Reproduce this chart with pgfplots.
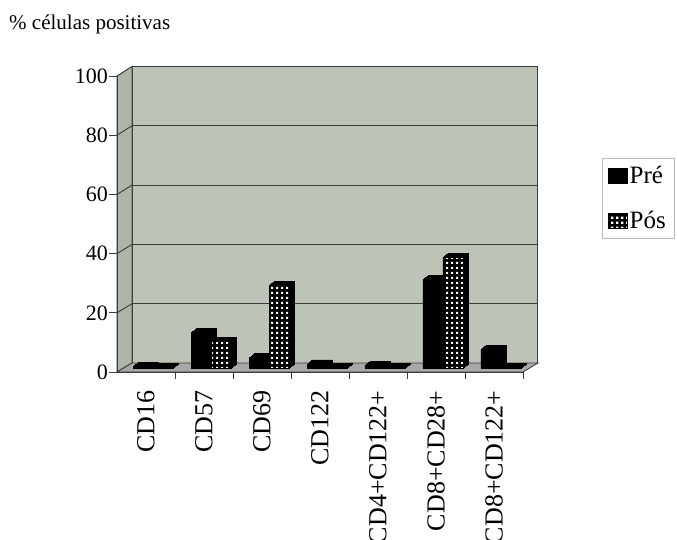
\documentclass[border=0pt]{standalone}
\usepackage{fontspec}
\setmainfont{Liberation Serif}
\usepackage{pgfplots}
\usepackage{pgfplotstable}
\pgfplotsset{compat=1.18}
\usetikzlibrary{patterns}

\definecolor{wall}{RGB}{188,196,183}
\definecolor{sidewall}{RGB}{174,182,169}
\definecolor{floorc}{RGB}{168,168,168}
\definecolor{edge}{RGB}{60,60,60}

% white squares on black: the fill of the "Pós" bars
\pgfdeclarepatternformonly{whitesq}{\pgfqpoint{0pt}{0pt}}{\pgfqpoint{5pt}{5pt}}{\pgfqpoint{5pt}{5pt}}{%
  \pgfpathrectangle{\pgfqpoint{1.2pt}{1.2pt}}{\pgfqpoint{2.6pt}{2.6pt}}\pgfusepath{fill}}

\pgfplotstableread{
idx pre pos
0 0.6 0.3
1 12 9
2 3.5 28
3 1.4 0.3
4 1.0 0.3
5 30 37.5
6 6.4 0.2
}\cells

% extruded depth of a bar: black copies stepped back and up
\pgfplotsset{
  depth/.style={ybar, bar width=20pt, fill=black, draw=black, forget plot},
}

\begin{document}
\begin{tikzpicture}
\clip (0pt,0pt) rectangle (677pt,539pt);

\node[anchor=west, inner sep=0pt, font=\fontsize{21}{24}\selectfont] at (9pt,515pt) {\% células positivas};

% back wall with gridlines
\begin{axis}[
  at={(132pt,176pt)}, anchor=south west, scale only axis,
  width=406pt, height=296.5pt,
  xmin=-0.5, xmax=6.5, ymin=0, ymax=100,
  xtick=\empty, ytick={20,40,60,80}, yticklabels={},
  major tick length=0pt,
  ymajorgrids, grid style={edge, line width=0.9pt},
  axis background/.style={fill=wall},
  axis line style={edge, line width=1pt},
]
\end{axis}

% side wall and floor
\fill[sidewall, draw=edge, line width=1pt] (117pt,167pt) -- (132pt,176pt) -- (132pt,472.5pt) -- (117pt,463pt) -- cycle;
\foreach \k in {1,2,3,4}
  \draw[edge, line width=0.9pt] (117pt,167pt+\k*59.2pt) -- (132pt,176pt+\k*59.3pt);
\fill[floorc, draw=edge, line width=0.8pt] (117pt,167pt) -- (132pt,176pt) -- (538pt,176pt) -- (523pt,167pt) -- cycle;

% bars
\begin{axis}[
  at={(124pt,171pt)}, anchor=south west, scale only axis,
  width=406pt, height=296pt,
  xmin=-0.5, xmax=6.5, ymin=0, ymax=100,
  hide axis, clip=false,
  legend style={at={(1.177,0.709)}, anchor=north west, draw=gray!55, fill=white,
    font=\fontsize{25}{27}\selectfont, row sep=22pt, inner xsep=6pt, inner ysep=6pt,
    cells={anchor=west}},
  legend image code/.code={\path[#1, draw=black, line width=0.6pt] (0pt,-7.5pt) rectangle (19pt,7.5pt);},
]
% Pré
\addplot[depth, bar shift=-5pt, yshift=4pt]   table[x=idx, y=pre]{\cells};
\addplot[depth, bar shift=-6pt, yshift=3.2pt] table[x=idx, y=pre]{\cells};
\addplot[depth, bar shift=-7pt, yshift=2.4pt] table[x=idx, y=pre]{\cells};
\addplot[depth, bar shift=-8pt, yshift=1.6pt] table[x=idx, y=pre]{\cells};
\addplot[depth, bar shift=-9pt, yshift=0.8pt] table[x=idx, y=pre]{\cells};
\addplot[ybar, bar width=20pt, bar shift=-10pt, fill=black, draw=black]
  table[x=idx, y=pre]{\cells};
\addlegendentry{Pré}
% Pós
\addplot[depth, bar shift=15pt, yshift=4pt]   table[x=idx, y=pos]{\cells};
\addplot[depth, bar shift=14pt, yshift=3.2pt] table[x=idx, y=pos]{\cells};
\addplot[depth, bar shift=13pt, yshift=2.4pt] table[x=idx, y=pos]{\cells};
\addplot[depth, bar shift=12pt, yshift=1.6pt] table[x=idx, y=pos]{\cells};
\addplot[depth, bar shift=11pt, yshift=0.8pt] table[x=idx, y=pos]{\cells};
\addplot[ybar, bar width=20pt, bar shift=10pt, fill=black, draw=black,
  postaction={pattern=whitesq, pattern color=white}]
  table[x=idx, y=pos]{\cells};
\addlegendentry{Pós}
\end{axis}

% front axis with ticks and labels
\begin{axis}[
  at={(117pt,167pt)}, anchor=south west, scale only axis,
  width=406pt, height=296pt,
  xmin=-0.5, xmax=6.5, ymin=0, ymax=100,
  axis lines*=left,
  axis line style={edge, line width=1pt},
  tick style={edge, line width=0.8pt},
  tick align=outside,
  ytick={0,20,40,60,80,100},
  major tick length=8pt,
  yticklabel style={font=\fontsize{22}{24}\selectfont, inner xsep=1pt},
  /pgf/number format/assume math mode=true,
  xtick={0,1,2,3,4,5,6},
  xticklabels={CD16,CD57,CD69,CD122,CD4+CD122+,CD8+CD28+,CD8+CD122+},
  major x tick style={draw=none},
  minor xtick={0.5,1.5,2.5,3.5,4.5,5.5,6.5},
  minor tick length=7pt,
  % rotated frame: xshift moves the labels down
  xticklabel style={rotate=90, anchor=east, font=\fontsize{26}{28}\selectfont, xshift=-7pt, yshift=0pt},
]
\end{axis}
\end{tikzpicture}
\end{document}
